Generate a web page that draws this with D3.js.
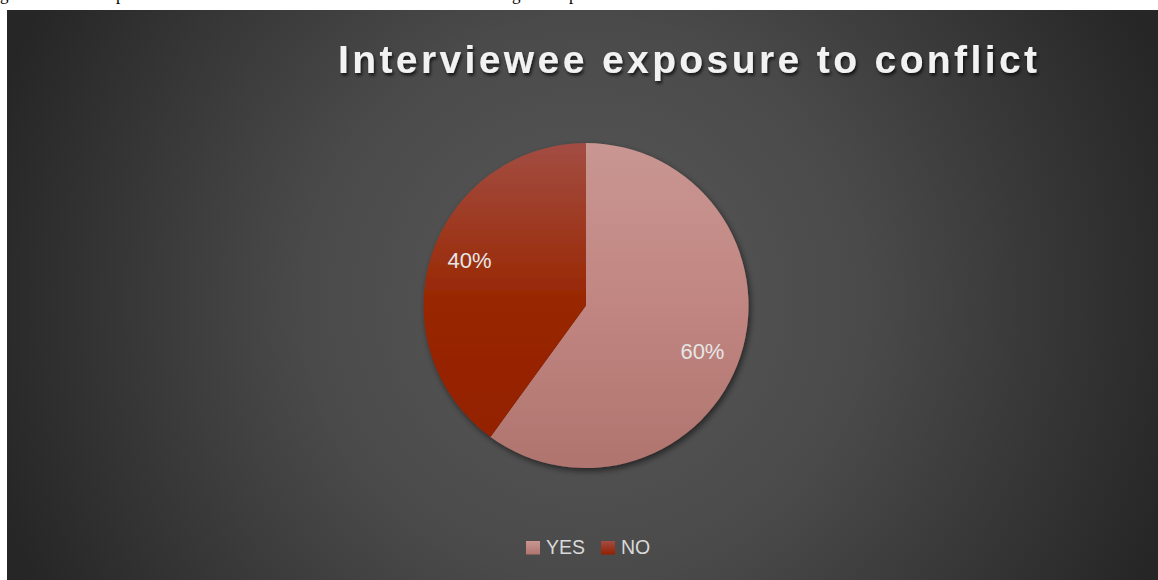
<!DOCTYPE html>
<html>
<head>
<meta charset="utf-8">
<script src="https://cdn.jsdelivr.net/npm/d3@7"></script>
<style>
  html, body { margin: 0; padding: 0; background: #ffffff; }
  svg { display: block; }
</style>
</head>
<body>
<svg id="chart" width="1158" height="580"></svg>
<script>
const categories = ["YES", "NO"];
const values = [60, 40];
const topColors = ["#c99692", "#a34d43"];
const midColors = ["#c18681", "#982600"];
const bottomColors = ["#b0746f", "#932000"];
const titleText = "Interviewee exposure to conflict";

const W = 1158, H = 580;
const svg = d3.select("#chart");
const defs = svg.append("defs");

// background gradient
const bg = defs.append("radialGradient").attr("id", "bgGrad")
  .attr("gradientUnits", "userSpaceOnUse")
  .attr("cx", 586).attr("cy", 300).attr("r", 620);
bg.append("stop").attr("offset", 0).attr("stop-color", "#595959");
bg.append("stop").attr("offset", 0.45).attr("stop-color", "#4a4a4a");
bg.append("stop").attr("offset", 1).attr("stop-color", "#262626");

// document fragments above chart
svg.append("rect").attr("x", 0).attr("y", 0).attr("width", W).attr("height", 10).attr("fill", "#ffffff");
const frag = svg.append("g").attr("font-family", "Liberation Serif, serif").attr("font-size", 17).attr("fill", "#000");
frag.append("text").attr("x", 0).attr("y", 0).text("g");
frag.append("text").attr("x", 116).attr("y", 0).text("p");
frag.append("text").attr("x", 512).attr("y", 0).text("g");
frag.append("text").attr("x", 569).attr("y", 0).text("p");

svg.append("rect").attr("x", 7).attr("y", 10).attr("width", W - 7).attr("height", H - 10)
  .attr("fill", "url(#bgGrad)");

// shadows
const sh = defs.append("filter").attr("id", "pieShadow").attr("x", "-20%").attr("y", "-20%").attr("width", "140%").attr("height", "140%");
sh.append("feDropShadow").attr("dx", 2).attr("dy", 3).attr("stdDeviation", 3).attr("flood-color", "#000").attr("flood-opacity", 0.55);
const tsh = defs.append("filter").attr("id", "titleShadow").attr("x", "-5%").attr("y", "-30%").attr("width", "110%").attr("height", "160%");
tsh.append("feDropShadow").attr("dx", 1.5).attr("dy", 2.5).attr("stdDeviation", 1.8).attr("flood-color", "#000").attr("flood-opacity", 0.7);

// title
svg.append("text")
  .attr("x", 338).attr("y", 72.5)
  .attr("font-family", "Liberation Sans, Arial, sans-serif")
  .attr("font-weight", "bold")
  .attr("font-size", 39)
  .attr("textLength", 699)
  .attr("lengthAdjust", "spacing")
  .attr("fill", "#f2f2f2")
  .attr("filter", "url(#titleShadow)")
  .text(titleText);

// pie
const cx = 586, cy = 305.5, r = 162.5;
const pie = d3.pie().sort(null).value(d => d.value).startAngle(0).endAngle(2 * Math.PI);
const data = categories.map((c, i) => ({ cat: c, value: values[i], i }));
const arcs = pie(data);
const arc = d3.arc().innerRadius(0).outerRadius(r);
const labelR = r * 0.77;
const labelShift = 3.5 * Math.PI / 180;

categories.forEach((c, i) => {
  const g = defs.append("linearGradient").attr("id", "slice" + i)
    .attr("gradientUnits", "userSpaceOnUse")
    .attr("x1", 0).attr("y1", -r).attr("x2", 0).attr("y2", r);
  g.append("stop").attr("offset", 0).attr("stop-color", topColors[i]);
  g.append("stop").attr("offset", 0.5).attr("stop-color", midColors[i]);
  g.append("stop").attr("offset", 1).attr("stop-color", bottomColors[i]);
});

const pg = svg.append("g").attr("transform", `translate(${cx},${cy})`);
const sliceG = pg.append("g").attr("filter", "url(#pieShadow)");
sliceG.selectAll("path").data(arcs).join("path")
  .attr("d", arc)
  .attr("fill", d => `url(#slice${d.data.i})`);

pg.selectAll("text.lbl").data(arcs).join("text")
  .attr("class", "lbl")
  .attr("transform", d => {
    const a = (d.startAngle + d.endAngle) / 2 + labelShift;
    return `translate(${Math.sin(a) * labelR},${-Math.cos(a) * labelR})`;
  })
  .attr("text-anchor", "middle")
  .attr("dy", "0.36em")
  .attr("font-family", "Liberation Sans, Arial, sans-serif")
  .attr("font-size", 22)
  .attr("fill", "#e6e6e6")
  .text(d => d.data.value + "%");

// legend
const legendX = [526, 601];
const lg = svg.append("g");
categories.forEach((c, i) => {
  const lgGrad = defs.append("linearGradient").attr("id", "legendGrad" + i)
    .attr("x1", 0).attr("y1", 0).attr("x2", 0).attr("y2", 1);
  lgGrad.append("stop").attr("offset", 0).attr("stop-color", topColors[i]);
  lgGrad.append("stop").attr("offset", 1).attr("stop-color", bottomColors[i]);
  lg.append("rect").attr("x", legendX[i]).attr("y", 541).attr("width", 14).attr("height", 13.5)
    .attr("fill", `url(#legendGrad${i})`);
  lg.append("text").attr("x", legendX[i] + 20).attr("y", 554.3)
    .attr("font-family", "Liberation Sans, Arial, sans-serif")
    .attr("font-size", 19.5)
    .attr("fill", "#d9d9d9")
    .text(c);
});
</script>
</body>
</html>
